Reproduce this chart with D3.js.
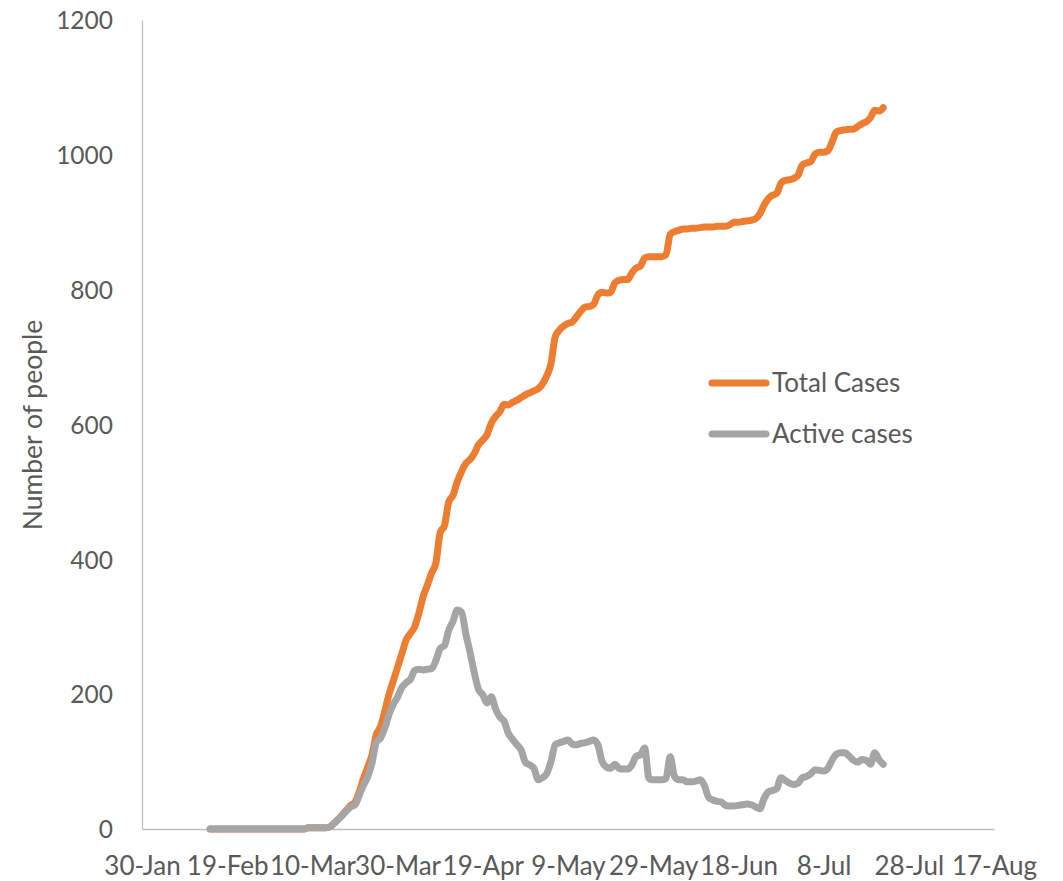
<!DOCTYPE html>
<html>
<head>
<meta charset="utf-8">
<script src="https://cdn.jsdelivr.net/npm/d3@7"></script>
<style>
  html, body { margin: 0; padding: 0; background: #fff; }
  svg text { font-family: Lato, "Open Sans", sans-serif; fill: #595959; }
</style>
</head>
<body>
<svg id="chart" width="1063" height="881"></svg>
<script>
// ---- data (daily values from 15-Feb-2020 to 22-Jul-2020) ----
const startDate = "2020-02-15";
const seriesNames = ["Total Cases", "Active cases"];
const totalCases = [
  0,0,0,0,0,0,0,0,0,0,0,0,0,0,0,0,0,0,0,0,0,0,0,
  2,2,2,2,2,3,
  8,14,21,28,35,40,55,75,92,110,140,152,175,200,220,240,260,280,290,300,
  320,345,362,380,395,440,450,485,495,515,530,542,548,557,570,577,585,602,612,619,
  630,629,633,636,640,644,647,650,653,660,672,690,730,740,746,750,752,760,768,774,
  775,778,792,796,795,796,810,814,815,815,825,832,835,847,849,849,849,849,852,882,
  886,888,890,890,891,891,892,893,893,893,894,894,894,896,900,900,901,902,903,905,
  912,925,935,940,943,958,962,963,965,970,985,988,990,1001,1004,1004,1006,1019,1034,1036,
  1037,1038,1038,1042,1046,1049,1055,1066,1065,1070
];
const activeCases = [
  0,0,0,0,0,0,0,0,0,0,0,0,0,0,0,0,0,0,0,0,0,0,0,
  2,2,2,2,2,3,
  8,14,20,27,33,36,50,65,78,98,129,135,150,170,185,196,210,217,222,235,
  237,236,237,238,250,268,272,295,308,325,322,290,262,232,207,199,187,196,178,166,
  160,142,133,125,117,99,95,90,73,76,82,100,125,128,130,132,126,125,127,128,
  130,132,125,100,92,90,96,90,89,89,95,108,110,120,75,73,73,73,75,107,
  78,73,73,70,70,71,73,65,47,43,41,40,35,34,34,35,36,37,36,33,
  30,45,55,57,60,76,72,68,66,68,76,78,82,88,87,86,90,102,111,113,
  113,108,102,99,103,102,96,113,103,96
];
const xTickLabels = ["30-Jan","19-Feb","10-Mar","30-Mar","19-Apr","9-May","29-May","18-Jun","8-Jul","28-Jul","17-Aug"];
const yTicks = [0, 200, 400, 600, 800, 1000, 1200];
const colors = ["#ED7D31", "#A5A5A5"];

// ---- layout ----
const svg = d3.select("#chart");
const plotLeft = 142, plotRight = 994, plotTop = 20, plotBottom = 829;

const parse = d3.timeParse("%Y-%m-%d");
const t0 = parse("2020-01-30"), t1 = parse("2020-08-17");
const x = d3.scaleTime().domain([t0, t1]).range([plotLeft, plotRight]);
const y = d3.scaleLinear().domain([0, 1200]).range([plotBottom, plotTop]);

const start = parse(startDate);
const dates = totalCases.map((_, i) => d3.timeDay.offset(start, i));

// y axis
const yAxis = svg.append("g").attr("transform", `translate(${plotLeft},0)`)
  .call(d3.axisLeft(y).tickValues(yTicks).tickSize(0).tickPadding(29).tickFormat(d3.format("d")));
yAxis.select(".domain").attr("stroke", "#BFBFBF").attr("stroke-width", 1.3);
yAxis.selectAll("text").style("font-size", "24.5px").attr("fill", "#595959").attr("dy", "0.36em");

// x axis
const xTickDates = xTickLabels.map((_, i) => d3.timeDay.offset(t0, i * 20));
const xAxis = svg.append("g").attr("transform", `translate(0,${plotBottom})`)
  .call(d3.axisBottom(x).tickValues(xTickDates).tickSize(0).tickPadding(28)
    .tickFormat((d, i) => xTickLabels[i]));
xAxis.select(".domain").attr("stroke", "#BFBFBF").attr("stroke-width", 1.3);
xAxis.selectAll("text").style("font-size", "26px").attr("fill", "#595959");

// y title
svg.append("text")
  .attr("transform", `translate(42,425) rotate(-90)`)
  .attr("text-anchor", "middle")
  .style("font-size", "26.5px")
  .text("Number of people");

// lines
const line = d3.line()
  .x((d, i) => x(dates[i]))
  .y(d => y(d))
  .curve(d3.curveMonotoneX);

[totalCases, activeCases].forEach((s, k) => {
  svg.append("path")
    .datum(s)
    .attr("fill", "none")
    .attr("stroke", colors[k])
    .attr("stroke-width", 7)
    .attr("stroke-linecap", "round")
    .attr("stroke-linejoin", "round")
    .attr("d", line);
});

// legend
const legend = svg.append("g");
seriesNames.forEach((name, k) => {
  const ly = 383 + k * 51;
  legend.append("line")
    .attr("x1", 712).attr("x2", 766).attr("y1", ly).attr("y2", ly)
    .attr("stroke", colors[k]).attr("stroke-width", 7).attr("stroke-linecap", "round");
  legend.append("text")
    .attr("x", 772).attr("y", ly).attr("dy", "0.36em")
    .style("font-size", "26px")
    .text(name);
});
</script>
</body>
</html>
